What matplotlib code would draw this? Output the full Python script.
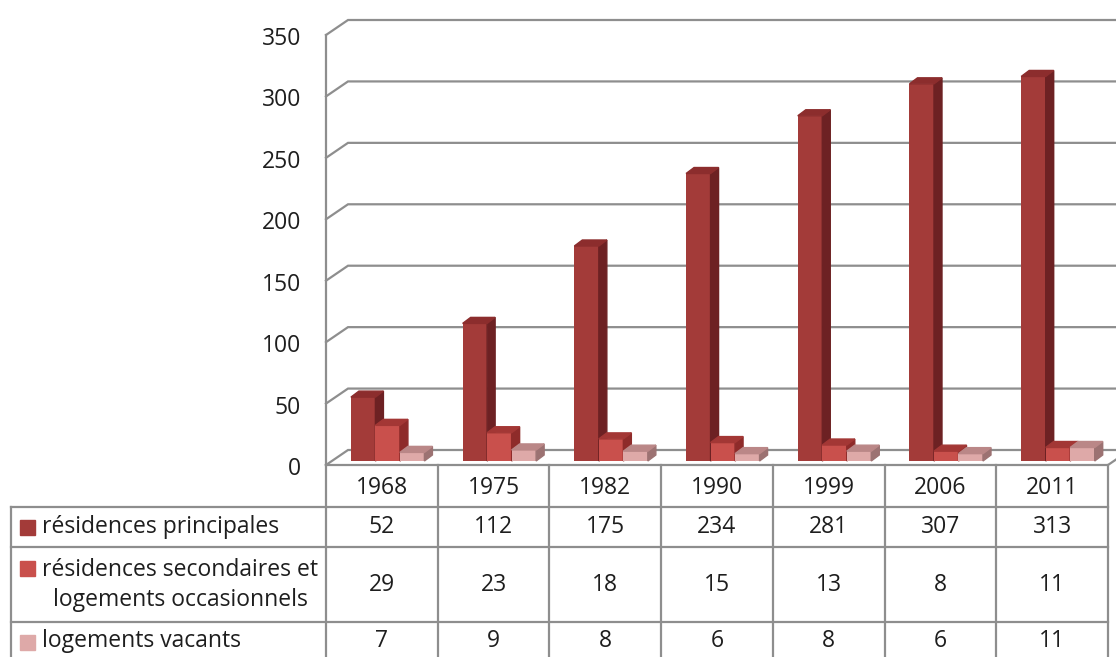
import matplotlib.pyplot as plt
import matplotlib.transforms as mtrans
from matplotlib.patches import Polygon, Rectangle

plt.rcParams['font.family'] = ['Open Sans', 'DejaVu Sans']

# data
years = ['1968', '1975', '1982', '1990', '1999', '2006', '2011']
series_names = ['résidences principales',
                'résidences secondaires et\nlogements occasionnels',
                'logements vacants']
principales = [52, 112, 175, 234, 281, 307, 313]
secondaires = [29, 23, 18, 15, 13, 8, 11]
vacants = [7, 9, 8, 6, 8, 6, 11]
yticks = [0, 50, 100, 150, 200, 250, 300, 350]

series = [principales, secondaires, vacants]
front_clr = ['#A33B39', '#C9504C', '#DEA9A8']
side_clr = ['#6D2123', '#8E2B2A', '#9C7272']
top_clr = ['#8C2D2D', '#A33735', '#BA8787']
grid_clr = '#8E8E8E'
txt_clr = '#1E1E1E'
fs = 16.5

W, H = 1116, 657
fig = plt.figure(figsize=(W / 100, H / 100), dpi=100)

# plot area in pixels (front plane)
x0, x1 = 326, 1108
ytop, ybot = 35, 465
ax = fig.add_axes([x0 / W, (H - ybot) / H, (x1 - x0) / W, (ybot - ytop) / H])
ax.set_xlim(-0.5, len(years) - 0.5)
ax.set_ylim(0, 350)
ax.axis('off')

px_x = len(years) / (x1 - x0)     # data units per px (x)
px_y = 350 / (ybot - ytop)        # data units per px (y)
wall_dx, wall_dy = 22 * px_x, 15 * px_y
bar_dx, bar_dy = 8 * px_x, 6 * px_y
base = 4 * px_y
width = 24.5 * px_x

# back wall gridlines + left wall diagonals
xl = -0.5
lbl_off = ax.transData + mtrans.ScaledTranslation(-25 / 100, -4 / 100, fig.dpi_scale_trans)
for v in yticks:
    ax.plot([xl, xl + wall_dx, 6.5 + wall_dx], [v, v + wall_dy, v + wall_dy],
            color=grid_clr, lw=1.6, clip_on=False, solid_joinstyle='miter')
    ax.text(xl, v, str(v), transform=lbl_off, ha='right', va='center', fontsize=fs, color=txt_clr)
# front floor edge + right diagonal
ax.plot([xl, 6.5, 6.5 + wall_dx], [0, 0, wall_dy], color=grid_clr, lw=1.6, clip_on=False)
ax.plot([xl, xl], [0, 350], color=grid_clr, lw=1.6, clip_on=False)

# bars with depth
for i, vals in enumerate(series):
    off = (i - 1) * width + 0.052
    xs = [k + off for k in range(len(years))]
    ax.bar(xs, vals, width=width, bottom=base, color=front_clr[i], zorder=3 + i, clip_on=False)
    for x, v in zip(xs, vals):
        xr = x + width / 2
        xlft = x - width / 2
        top = base + v
        ax.add_patch(Polygon([(xr, base), (xr + bar_dx, base + bar_dy), (xr + bar_dx, top + bar_dy), (xr, top)],
                             closed=True, color=side_clr[i], zorder=3 + i, clip_on=False))
        ax.add_patch(Polygon([(xlft, top), (xlft + bar_dx, top + bar_dy), (xr + bar_dx, top + bar_dy), (xr, top)],
                             closed=True, color=top_clr[i], zorder=3 + i, clip_on=False))

# data table in pixel coords
tab = fig.add_axes([0, 0, 1, 1], zorder=-1)
tab.set_xlim(0, W)
tab.set_ylim(H, 0)
tab.axis('off')
col_w = (x1 - x0) / len(years)
rows = [465, 507, 547, 622]
lx = 11
for k in range(len(years) + 1):
    xx = x0 + k * col_w
    tab.plot([xx, xx], [rows[0], H], color=grid_clr, lw=1.6)
for r in rows[1:]:
    tab.plot([lx, x1], [r, r], color=grid_clr, lw=1.6)
tab.plot([lx, lx], [rows[1], H], color=grid_clr, lw=1.6)

for k, y in enumerate(years):
    tab.text(x0 + (k + 0.5) * col_w, 488, y, ha='center', va='center', fontsize=fs, color=txt_clr)

row_mid = [527, 585, 641]
first_line = [527, 568, 642]
for i, vals in enumerate(series):
    for k, v in enumerate(vals):
        tab.text(x0 + (k + 0.5) * col_w, row_mid[i], str(v), ha='center', va='center',
                 fontsize=fs, color=txt_clr)
    tab.add_patch(Rectangle((20, first_line[i] - 7.5), 15, 15, color=front_clr[i]))
    tab.text(42, row_mid[i], series_names[i], ha='left', va='center', multialignment='center',
             fontsize=fs, color=txt_clr, linespacing=1.3)

fig.savefig('out.png', dpi=100)
